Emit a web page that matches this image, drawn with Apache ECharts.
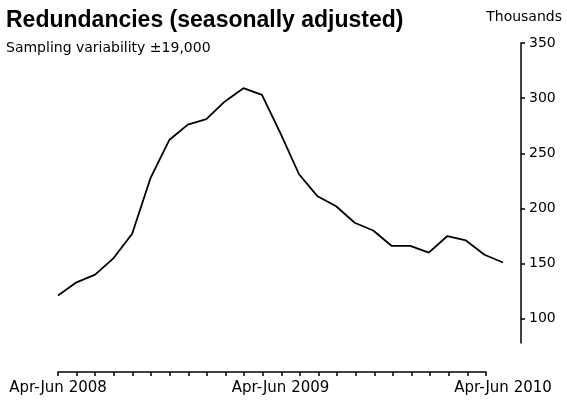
<!DOCTYPE html>
<html>
<head>
<meta charset="utf-8">
<script src="https://cdn.jsdelivr.net/npm/echarts@6/dist/echarts.min.js"></script>
<style>
html,body{margin:0;padding:0;background:#fff;}
#main{width:567px;height:403px;}
</style>
</head>
<body>
<div id="main"></div>
<script>
var categories = [
  'Apr-Jun 2008','May-Jul 2008','Jun-Aug 2008','Jul-Sep 2008','Aug-Oct 2008','Sep-Nov 2008',
  'Oct-Dec 2008','Nov-Jan 2009','Dec-Feb 2009','Jan-Mar 2009','Feb-Apr 2009','Mar-May 2009',
  'Apr-Jun 2009','May-Jul 2009','Jun-Aug 2009','Jul-Sep 2009','Aug-Oct 2009','Sep-Nov 2009',
  'Oct-Dec 2009','Nov-Jan 2010','Dec-Feb 2010','Jan-Mar 2010','Feb-Apr 2010','Mar-May 2010',
  'Apr-Jun 2010'
];
var redundancies = [121, 133, 140, 155, 177, 228, 262, 276, 281, 297, 309, 303, 268, 231, 211, 202, 187, 180, 166, 166, 160, 175, 171, 158, 151];
var yTicks = [100, 150, 200, 250, 300, 350];
var shownLabels = ['Apr-Jun 2008', 'Apr-Jun 2009', 'Apr-Jun 2010'];

var TITLE_FONT = '"Liberation Sans", Arial, sans-serif';
var FONT = '"DejaVu Sans", "Liberation Sans", sans-serif';
var chart = echarts.init(document.getElementById('main'), null, {renderer: 'canvas'});
var option = {
  backgroundColor: '#ffffff',
  animation: false,
  title: [
    {text: 'Redundancies (seasonally adjusted)', left: 6, top: 9, padding: 0,
     textStyle: {fontFamily: TITLE_FONT, fontWeight: 'bold', fontSize: 23, color: '#000'}},
    {text: 'Sampling variability \u00b119,000', left: 6, top: 41, padding: 0,
     textStyle: {fontFamily: FONT, fontWeight: 'normal', fontSize: 14, color: '#000'}},
    {text: 'Thousands', right: 5, top: 10, padding: 0,
     textStyle: {fontFamily: FONT, fontWeight: 'normal', fontSize: 14, color: '#000'}}
  ],
  grid: [
    {left: 58, right: 64, top: 43, bottom: 60, containLabel: false},
    {left: 58, right: 81, top: 43, bottom: 60, containLabel: false}
  ],
  xAxis: [
    {type: 'category', gridIndex: 0, data: categories, boundaryGap: false, offset: 29,
     axisLine: {show: false}, axisTick: {show: false},
     axisLabel: {interval: 0, margin: 9, fontFamily: FONT, fontSize: 15, color: '#000',
       formatter: function (v) { return shownLabels.indexOf(v) >= 0 ? v : ''; }},
     splitLine: {show: false}},
    {type: 'category', gridIndex: 1, data: categories.slice(0, 24), boundaryGap: false, offset: 29,
     axisLine: {show: true, lineStyle: {color: '#000', width: 1.5}},
     axisTick: {show: true, interval: 0, length: 4, lineStyle: {color: '#000', width: 1.5}},
     axisLabel: {show: false}, splitLine: {show: false}}
  ],
  yAxis: [
    {type: 'value', gridIndex: 0, position: 'right', offset: 18, min: 78, max: 350,
     axisLine: {show: true, lineStyle: {color: '#000', width: 1.5}},
     axisTick: {show: true, length: 4, customValues: yTicks, lineStyle: {color: '#000', width: 1.5}},
     axisLabel: {customValues: yTicks, margin: 8, fontFamily: FONT, fontSize: 14, color: '#000'},
     splitLine: {show: false}},
    {type: 'value', gridIndex: 1, min: 78, max: 350, show: false}
  ],
  series: [
    {type: 'line', xAxisIndex: 0, yAxisIndex: 0, data: redundancies,
     symbol: 'none', smooth: false,
     lineStyle: {color: '#000', width: 1.8}}
  ]
};
chart.setOption(option);
</script>
</body>
</html>
